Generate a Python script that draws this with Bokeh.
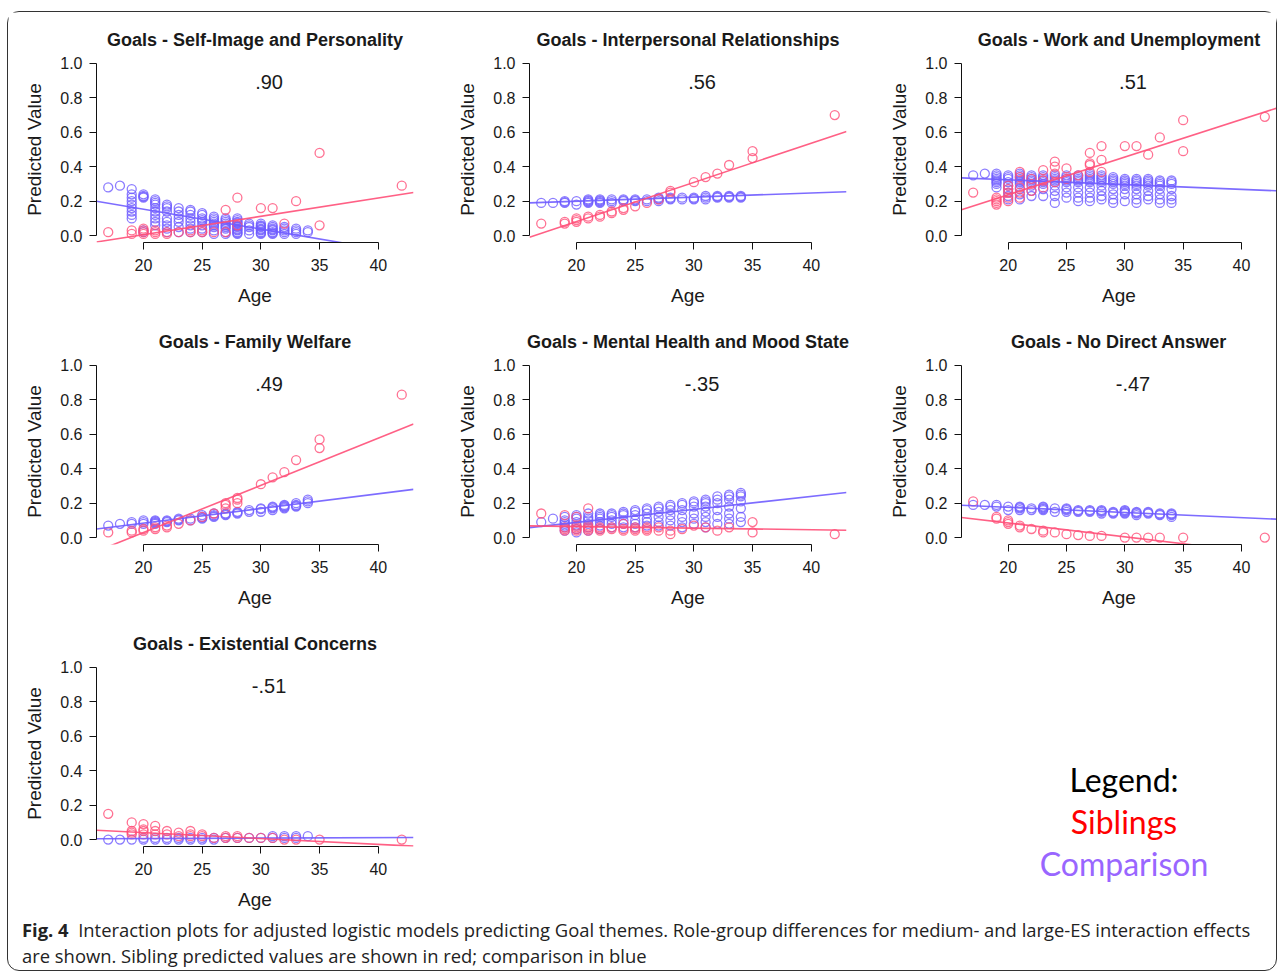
from bokeh.plotting import figure
from bokeh.layouts import column, row
from bokeh.models import Range1d, Label, Div, FixedTicker, PrintfTickFormatter
from bokeh.embed import file_html
from bokeh.resources import INLINE

# ---------------- data ----------------
TITLES = [
    "Goals - Self-Image and Personality",
    "Goals - Interpersonal Relationships",
    "Goals - Work and Unemployment",
    "Goals - Family Welfare",
    "Goals - Mental Health and Mood State",
    "Goals - No Direct Answer",
    "Goals - Existential Concerns",
]
ES_LABELS = [".90", ".56", ".51", ".49", "-.35", "-.47", "-.51"]
X_TICKS = [20, 25, 30, 35, 40]
Y_TICKS = [0.0, 0.2, 0.4, 0.6, 0.8, 1.0]
FIT_AGES = [16, 43]

# fitted lines: predicted value at FIT_AGES (left / right edge)
COMP_FITS = [[0.20, -0.112], [0.19, 0.255], [0.335, 0.26], [0.05, 0.28],
             [0.058, 0.262], [0.188, 0.107], [0.005, 0.012]]
SIB_FITS = [[-0.037, 0.25], [-0.01, 0.605], [0.15, 0.74], [-0.08, 0.66],
            [0.068, 0.043], [0.117, -0.10], [0.054, -0.038]]

# points: age -> predicted values
P1_COMP = {17: [0.28], 18: [0.29], 19: [0.10, 0.12, 0.14, 0.16, 0.18, 0.20, 0.22, 0.24, 0.27],
           20: [0.02, 0.03, 0.22, 0.225, 0.23, 0.24], 21: [0.06, 0.08, 0.10, 0.12, 0.14, 0.16, 0.18, 0.19, 0.20, 0.21],
           22: [0.02, 0.04, 0.06, 0.08, 0.10, 0.14, 0.16, 0.17, 0.18], 23: [0.02, 0.05, 0.08, 0.10, 0.12, 0.14, 0.16],
           24: [0.02, 0.04, 0.06, 0.08, 0.10, 0.12, 0.14, 0.15], 25: [0.02, 0.04, 0.06, 0.08, 0.09, 0.10, 0.12, 0.13],
           26: [0.01, 0.03, 0.05, 0.06, 0.07, 0.08, 0.09, 0.10, 0.11], 27: [0.01, 0.02, 0.04, 0.05, 0.06, 0.07, 0.08, 0.09, 0.10],
           28: [0.01, 0.015, 0.02, 0.03, 0.035, 0.04, 0.05, 0.055, 0.06, 0.07, 0.075, 0.08, 0.09, 0.10],
           29: [0.01, 0.03, 0.05, 0.06, 0.07],
           30: [0.01, 0.015, 0.02, 0.03, 0.035, 0.04, 0.05, 0.055, 0.06, 0.07],
           31: [0.01, 0.015, 0.02, 0.03, 0.035, 0.04, 0.05, 0.06],
           32: [0.01, 0.02, 0.03, 0.04, 0.05], 33: [0.01, 0.02, 0.03, 0.04], 34: [0.02, 0.03]}
P1_SIB = {17: [0.02], 19: [0.01, 0.03], 20: [0.01, 0.02, 0.03, 0.04], 21: [0.01, 0.02, 0.03],
          22: [0.01, 0.02], 23: [0.02], 24: [0.02, 0.03], 25: [0.02, 0.03], 26: [0.02],
          27: [0.02, 0.15], 28: [0.06, 0.22], 30: [0.16], 31: [0.16], 32: [0.07], 33: [0.20],
          35: [0.06, 0.48], 42: [0.29]}

P2_COMP = {17: [0.19], 18: [0.19], 19: [0.19, 0.195, 0.20], 20: [0.18, 0.20], 21: [0.19, 0.195, 0.20, 0.205, 0.21],
           22: [0.19, 0.195, 0.20, 0.205, 0.21], 23: [0.19, 0.20, 0.21], 24: [0.20, 0.205, 0.21], 25: [0.20, 0.205, 0.21],
           26: [0.20, 0.21], 27: [0.20, 0.21, 0.215, 0.22], 28: [0.21, 0.215, 0.22], 29: [0.21, 0.22],
           30: [0.21, 0.215, 0.22], 31: [0.21, 0.22, 0.23], 32: [0.22, 0.225, 0.23], 33: [0.22, 0.225, 0.23],
           34: [0.22, 0.225, 0.23]}
P2_SIB = {17: [0.07], 19: [0.07, 0.08], 20: [0.08, 0.09, 0.10], 21: [0.10, 0.11], 22: [0.11, 0.12],
          23: [0.13, 0.14], 24: [0.15, 0.16], 25: [0.17], 26: [0.19], 27: [0.21], 28: [0.25, 0.26],
          30: [0.31], 31: [0.34], 32: [0.36], 33: [0.41], 35: [0.45, 0.49], 42: [0.70]}

P3_COMP = {17: [0.35], 18: [0.36], 19: [0.28, 0.30, 0.31, 0.32, 0.33, 0.34, 0.35, 0.36],
           20: [0.21, 0.23, 0.25, 0.27, 0.29, 0.31, 0.33, 0.34, 0.35],
           21: [0.21, 0.24, 0.27, 0.30, 0.31, 0.32, 0.33, 0.34, 0.35, 0.36],
           22: [0.23, 0.26, 0.29, 0.31, 0.32, 0.33, 0.34, 0.35], 23: [0.23, 0.27, 0.30, 0.31, 0.32, 0.33, 0.34, 0.35],
           24: [0.19, 0.23, 0.26, 0.29, 0.31, 0.32, 0.33, 0.34, 0.35],
           25: [0.22, 0.25, 0.28, 0.31, 0.32, 0.33, 0.34, 0.35],
           26: [0.20, 0.22, 0.25, 0.28, 0.31, 0.32, 0.33, 0.34, 0.35],
           27: [0.20, 0.22, 0.25, 0.28, 0.31, 0.32, 0.33, 0.34, 0.35, 0.36],
           28: [0.21, 0.23, 0.26, 0.29, 0.31, 0.32, 0.33, 0.34, 0.35],
           29: [0.19, 0.21, 0.24, 0.27, 0.30, 0.31, 0.32, 0.33, 0.34],
           30: [0.20, 0.24, 0.27, 0.29, 0.30, 0.31, 0.32, 0.33], 31: [0.19, 0.21, 0.24, 0.27, 0.29, 0.30, 0.31, 0.32, 0.33],
           32: [0.21, 0.23, 0.26, 0.29, 0.30, 0.31, 0.32, 0.33], 33: [0.19, 0.21, 0.24, 0.27, 0.29, 0.30, 0.31, 0.32],
           34: [0.19, 0.21, 0.23, 0.27, 0.30, 0.31, 0.32]}
P3_SIB = {17: [0.25], 19: [0.18, 0.19, 0.20, 0.21, 0.22], 20: [0.20, 0.22, 0.25, 0.27, 0.29],
          21: [0.22, 0.25, 0.28, 0.34, 0.37], 22: [0.26, 0.30, 0.33], 23: [0.28, 0.32, 0.38],
          24: [0.31, 0.36, 0.40, 0.43], 25: [0.33, 0.39], 26: [0.35], 27: [0.37, 0.41, 0.42, 0.48],
          28: [0.37, 0.44, 0.52], 30: [0.52], 31: [0.52], 32: [0.47], 33: [0.57], 35: [0.49, 0.67],
          42: [0.69]}

P4_COMP = {17: [0.07], 18: [0.08], 19: [0.08, 0.09], 20: [0.08, 0.09, 0.10], 21: [0.08, 0.085, 0.09, 0.095, 0.10],
           22: [0.09, 0.095, 0.10], 23: [0.10, 0.105, 0.11], 24: [0.10, 0.11], 25: [0.11, 0.115, 0.12, 0.13],
           26: [0.12, 0.125, 0.13, 0.14], 27: [0.13, 0.135, 0.14], 28: [0.14, 0.145, 0.15], 29: [0.15, 0.16],
           30: [0.15, 0.165, 0.17], 31: [0.16, 0.17, 0.175, 0.18], 32: [0.17, 0.175, 0.18, 0.185, 0.19],
           33: [0.18, 0.185, 0.19, 0.20], 34: [0.20, 0.21, 0.22]}
P4_SIB = {17: [0.03], 19: [0.03, 0.04], 20: [0.04, 0.05], 21: [0.05, 0.06], 22: [0.06, 0.07],
          23: [0.08], 24: [0.10], 25: [0.12], 26: [0.14], 27: [0.17, 0.19, 0.20], 28: [0.20, 0.22, 0.23],
          30: [0.31], 31: [0.35], 32: [0.38], 33: [0.45], 35: [0.52, 0.57], 42: [0.83]}

P5_COMP = {17: [0.09], 18: [0.11], 19: [0.04, 0.06, 0.07, 0.08, 0.09, 0.10, 0.12],
           20: [0.03, 0.05, 0.07, 0.09, 0.11, 0.12, 0.13], 21: [0.04, 0.06, 0.08, 0.10, 0.11, 0.12, 0.14],
           22: [0.05, 0.07, 0.09, 0.11, 0.12, 0.13, 0.14], 23: [0.06, 0.08, 0.10, 0.12, 0.13, 0.14],
           24: [0.06, 0.08, 0.10, 0.13, 0.14, 0.15], 25: [0.06, 0.08, 0.10, 0.13, 0.15, 0.16],
           26: [0.07, 0.09, 0.11, 0.14, 0.16, 0.17], 27: [0.07, 0.09, 0.12, 0.15, 0.17, 0.18],
           28: [0.07, 0.10, 0.13, 0.16, 0.18, 0.19], 29: [0.06, 0.09, 0.12, 0.16, 0.19, 0.20],
           30: [0.08, 0.11, 0.14, 0.18, 0.20, 0.21], 31: [0.06, 0.09, 0.12, 0.15, 0.18, 0.20, 0.21, 0.22],
           32: [0.08, 0.12, 0.16, 0.20, 0.22, 0.24], 33: [0.08, 0.11, 0.14, 0.18, 0.22, 0.24, 0.25],
           34: [0.09, 0.12, 0.17, 0.21, 0.24, 0.25, 0.26]}
P5_SIB = {17: [0.14], 19: [0.04, 0.05, 0.06, 0.13], 20: [0.04, 0.05, 0.06, 0.07, 0.12],
          21: [0.04, 0.05, 0.06, 0.07, 0.17], 22: [0.04, 0.05, 0.06], 23: [0.05, 0.06],
          24: [0.04, 0.05, 0.08], 25: [0.04, 0.05, 0.06], 26: [0.04, 0.05, 0.06], 27: [0.04, 0.06],
          28: [0.02, 0.04], 29: [0.05], 30: [0.07], 31: [0.06], 32: [0.04], 33: [0.06],
          35: [0.03, 0.09], 42: [0.02]}

P6_COMP = {17: [0.19], 18: [0.19], 19: [0.18, 0.19], 20: [0.16, 0.18], 21: [0.16, 0.17, 0.175, 0.18],
           22: [0.16, 0.17], 23: [0.16, 0.165, 0.17, 0.175, 0.18], 24: [0.15, 0.17], 25: [0.15, 0.16, 0.165, 0.17],
           26: [0.15, 0.155, 0.16], 27: [0.15, 0.155, 0.16], 28: [0.14, 0.15, 0.155, 0.16], 29: [0.14, 0.145, 0.15],
           30: [0.14, 0.145, 0.15, 0.155, 0.16], 31: [0.13, 0.14, 0.145, 0.15], 32: [0.14, 0.145, 0.15],
           33: [0.13, 0.135, 0.14], 34: [0.12, 0.13, 0.135, 0.14]}
P6_SIB = {17: [0.21], 19: [0.11, 0.12], 20: [0.08, 0.09, 0.10], 21: [0.06, 0.07], 22: [0.05],
          23: [0.03, 0.04], 24: [0.03], 25: [0.02], 26: [0.015], 27: [0.01], 28: [0.01],
          30: [0.0], 31: [0.0], 32: [0.0], 33: [0.0], 35: [0.0], 42: [0.0]}

P7_COMP = {17: [0.0], 18: [0.0], 19: [0.0], 20: [0.0, 0.01], 21: [0.0, 0.01], 22: [0.0, 0.01],
           23: [0.0, 0.01], 24: [0.0, 0.01], 25: [0.0, 0.01], 26: [0.0, 0.01], 27: [0.01],
           28: [0.01], 29: [0.01], 30: [0.01], 31: [0.01, 0.02], 32: [0.01, 0.02],
           33: [0.01, 0.02], 34: [0.02]}
P7_SIB = {17: [0.15], 19: [0.03, 0.04, 0.05, 0.10], 20: [0.03, 0.05, 0.06, 0.09],
          21: [0.03, 0.05, 0.08], 22: [0.03, 0.05], 23: [0.02, 0.04], 24: [0.02, 0.03, 0.05],
          25: [0.02, 0.03], 26: [0.01], 27: [0.01, 0.02], 28: [0.01, 0.02], 29: [0.01],
          30: [0.01], 31: [0.01], 32: [0.0], 33: [0.0], 35: [0.0], 42: [0.0]}

COMP_POINTS = [P1_COMP, P2_COMP, P3_COMP, P4_COMP, P5_COMP, P6_COMP, P7_COMP]
SIB_POINTS = [P1_SIB, P2_SIB, P3_SIB, P4_SIB, P5_SIB, P6_SIB, P7_SIB]

# ---------------- style ----------------
COMP_COLOR = "#6F5CFF"
SIB_COLOR = "#FF4F78"
FONT = "Liberation Sans"


def flatten(d):
    xs, ys = [], []
    for age, vals in d.items():
        for v in vals:
            xs.append(age)
            ys.append(v)
    return xs, ys


def make_panel(i, width, left, right, height, top):
    p = figure(width=width, height=height,
               x_range=Range1d(16, 43), y_range=Range1d(-0.04, 1.04),
               toolbar_location=None, output_backend="svg",
               min_border_left=left, min_border_right=right,
               min_border_top=top, min_border_bottom=68,
               background_fill_color="white", border_fill_color="white")
    p.outline_line_color = None
    p.xgrid.visible = False
    p.ygrid.visible = False
    p.title.text = TITLES[i]
    p.title.align = "center"
    p.title.text_font = FONT
    p.title.text_font_size = "18px"
    p.title.text_font_style = "bold"
    p.title.text_color = "#1a1a1a"
    p.title.standoff = 13

    for ax in (p.xaxis[0], p.yaxis[0]):
        ax.axis_line_color = "#111111"
        ax.major_tick_line_color = "#111111"
        ax.minor_tick_line_color = None
        ax.major_tick_in = 0
        ax.major_tick_out = 7
        ax.major_label_text_font = FONT
        ax.major_label_text_font_size = "16px"
        ax.major_label_text_color = "#1a1a1a"
        ax.axis_label_text_font = FONT
        ax.axis_label_text_font_size = "19px"
        ax.axis_label_text_font_style = "normal"
        ax.axis_label_text_color = "#1a1a1a"

    p.xaxis.ticker = FixedTicker(ticks=X_TICKS)
    p.xaxis.bounds = (X_TICKS[0], X_TICKS[-1])
    p.xaxis.axis_label = "Age"
    p.xaxis.major_label_standoff = 9
    p.xaxis.axis_label_standoff = 11

    p.yaxis.ticker = FixedTicker(ticks=Y_TICKS)
    p.yaxis.bounds = (Y_TICKS[0], Y_TICKS[-1])
    p.yaxis.formatter = PrintfTickFormatter(format="%.1f")
    p.yaxis.axis_label = "Predicted Value"
    p.yaxis.major_label_standoff = 7
    p.yaxis.axis_label_standoff = 12

    cx, cy = flatten(COMP_POINTS[i])
    sx, sy = flatten(SIB_POINTS[i])
    p.scatter(cx, cy, marker="circle", size=9, fill_color=None,
              line_color=COMP_COLOR, line_alpha=0.8, line_width=1.3)
    p.scatter(sx, sy, marker="circle", size=9, fill_color=None,
              line_color=SIB_COLOR, line_alpha=0.8, line_width=1.3)
    p.line(FIT_AGES, COMP_FITS[i], line_color=COMP_COLOR, line_width=1.6, line_alpha=0.9)
    p.line(FIT_AGES, SIB_FITS[i], line_color=SIB_COLOR, line_width=1.6, line_alpha=0.9)

    p.add_layout(Label(x=30.7, y=0.89, text=ES_LABELS[i], text_align="center",
                       text_baseline="middle", text_font=FONT, text_font_size="20px",
                       text_color="#1a1a1a"))
    return p


panels = []
for i in range(7):
    col = i % 3
    r = i // 3
    height, top = (298, 44) if r == 0 else (302, 48)
    if col == 0:
        panels.append(make_panel(i, 432, 88, 27, height, top))
    elif col == 1:
        panels.append(make_panel(i, 432, 89, 26, height, top))
    else:
        panels.append(make_panel(i, 404, 89, 0, height, top))

legend_html = (
    '<div style="position:relative;width:836px;height:302px;">'
    '<div style="position:absolute;left:534px;top:147px;width:300px;text-align:center;'
    'font-family:Lato, \'Open Sans\', sans-serif;font-size:32px;line-height:42px;">'
    '<span style="color:#000000">Legend:</span><br>'
    '<span style="color:#FF0000">Siblings</span><br>'
    '<span style="color:#9966FF">Comparison</span>'
    '</div></div>'
)
legend_div = Div(text=legend_html, width=836, height=302, margin=0)

caption_html = (
    '<div style="padding:3px 0 0 14px;font-family:\'Open Sans\', sans-serif;font-size:18.4px;'
    'line-height:26px;color:#222;white-space:nowrap;">'
    '<b>Fig. 4</b>&nbsp; Interaction plots for adjusted logistic models predicting Goal themes. '
    'Role-group differences for medium- and large-ES interaction effects<br>'
    'are shown. Sibling predicted values are shown in red; comparison in blue'
    '</div>'
)
caption_div = Div(text=caption_html, width=1268, height=56, margin=0)

layout = column(
    row(panels[0], panels[1], panels[2]),
    row(panels[3], panels[4], panels[5]),
    row(panels[6], legend_div),
    caption_div,
    margin=(11, 0, 0, 7),
    styles={"border": "1px solid #333", "border-radius": "12px", "background": "white"},
)

open("out.html", "w").write(file_html(layout, INLINE))
